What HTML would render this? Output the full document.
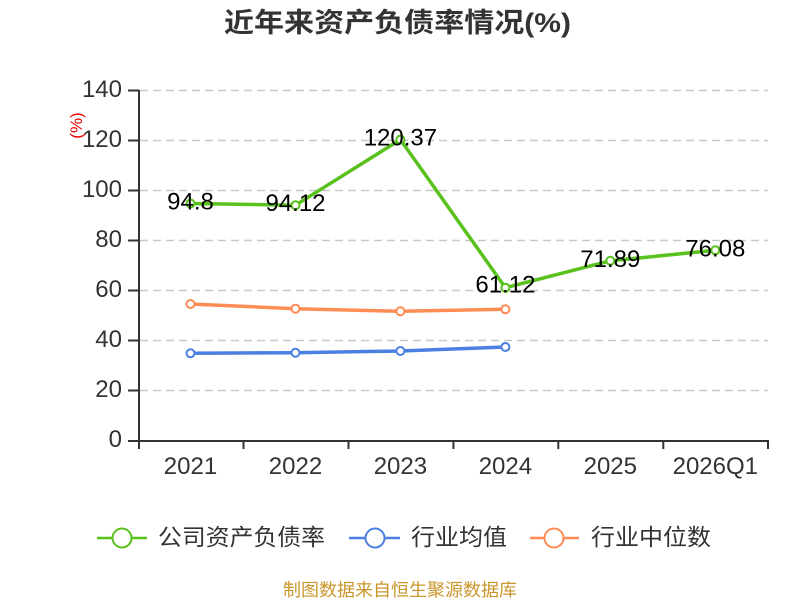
<!DOCTYPE html>
<html>
<head>
<meta charset="utf-8">
<style>
html,body{margin:0;padding:0;background:#fff;}
svg{display:block;}
</style>
</head>
<body>
<svg width="800" height="600" viewBox="0 0 800 600" xmlns="http://www.w3.org/2000/svg">
  <rect width="800" height="600" fill="#fff"/>
  <!-- Title -->
  <text x="224" y="32" font-family="'Liberation Sans','Noto Sans CJK SC',sans-serif" font-size="27" font-weight="bold" fill="#333" textLength="347" lengthAdjust="spacingAndGlyphs">近年来资产负债率情况(%)</text>

  <!-- gridlines -->
  <g stroke="#c8c8c8" stroke-width="1.6" stroke-dasharray="8,5">
    <line x1="140" y1="90.5" x2="768" y2="90.5"/>
    <line x1="140" y1="140.5" x2="768" y2="140.5"/>
    <line x1="140" y1="190.5" x2="768" y2="190.5"/>
    <line x1="140" y1="240.5" x2="768" y2="240.5"/>
    <line x1="140" y1="290.5" x2="768" y2="290.5"/>
    <line x1="140" y1="340.5" x2="768" y2="340.5"/>
    <line x1="140" y1="390.5" x2="768" y2="390.5"/>
  </g>

  <!-- axes -->
  <g stroke="#333" stroke-width="2">
    <line x1="139" y1="90" x2="139" y2="441"/>
    <line x1="138" y1="441" x2="769" y2="441"/>
    <!-- y ticks -->
    <line x1="128" y1="90.5" x2="139" y2="90.5"/>
    <line x1="128" y1="140.5" x2="139" y2="140.5"/>
    <line x1="128" y1="190.5" x2="139" y2="190.5"/>
    <line x1="128" y1="240.5" x2="139" y2="240.5"/>
    <line x1="128" y1="290.5" x2="139" y2="290.5"/>
    <line x1="128" y1="340.5" x2="139" y2="340.5"/>
    <line x1="128" y1="390.5" x2="139" y2="390.5"/>
    <line x1="128" y1="441" x2="139" y2="441"/>
    <!-- x ticks -->
    <line x1="139" y1="441" x2="139" y2="449"/>
    <line x1="243.5" y1="441" x2="243.5" y2="449"/>
    <line x1="348.5" y1="441" x2="348.5" y2="449"/>
    <line x1="453.4" y1="441" x2="453.4" y2="449"/>
    <line x1="558.3" y1="441" x2="558.3" y2="449"/>
    <line x1="663.3" y1="441" x2="663.3" y2="449"/>
    <line x1="768" y1="441" x2="768" y2="449"/>
  </g>

  <!-- y labels -->
  <g font-family="'Liberation Sans',sans-serif" font-size="24" fill="#333" text-anchor="end">
    <text x="122" y="97">140</text>
    <text x="122" y="147">120</text>
    <text x="122" y="197">100</text>
    <text x="122" y="247">80</text>
    <text x="122" y="297">60</text>
    <text x="122" y="347">40</text>
    <text x="122" y="397">20</text>
    <text x="122" y="447">0</text>
  </g>

  <!-- unit label -->
  <text x="0" y="0" transform="translate(82,125.5) rotate(-90)" font-family="'Liberation Sans',sans-serif" font-size="17" fill="#e00" text-anchor="middle">(%)</text>

  <!-- x labels -->
  <g font-family="'Liberation Sans',sans-serif" font-size="24" fill="#333" text-anchor="middle">
    <text x="190.5" y="474">2021</text>
    <text x="295.5" y="474">2022</text>
    <text x="400.4" y="474">2023</text>
    <text x="505.4" y="474">2024</text>
    <text x="610.3" y="474">2025</text>
    <text x="715.3" y="474">2026Q1</text>
  </g>

  <!-- series: industry median (orange) -->
  <polyline fill="none" stroke="#ff8c55" stroke-width="3.5" stroke-linejoin="round" points="190.5,304 295.5,308.7 400.4,311.3 505.4,309.3"/>
  <g fill="#fff" stroke="#ff8c55" stroke-width="2">
    <circle cx="190.5" cy="304" r="4"/>
    <circle cx="295.5" cy="308.7" r="4"/>
    <circle cx="400.4" cy="311.3" r="4"/>
    <circle cx="505.4" cy="309.3" r="4"/>
  </g>

  <!-- series: industry average (blue) -->
  <polyline fill="none" stroke="#4b7fe2" stroke-width="3.5" stroke-linejoin="round" points="190.5,353.3 295.5,352.7 400.4,351 505.4,347"/>
  <g fill="#fff" stroke="#4b7fe2" stroke-width="2">
    <circle cx="190.5" cy="353.3" r="4"/>
    <circle cx="295.5" cy="352.7" r="4"/>
    <circle cx="400.4" cy="351" r="4"/>
    <circle cx="505.4" cy="347" r="4"/>
  </g>

  <!-- series: company (green) -->
  <polyline fill="none" stroke="#58c11c" stroke-width="3.5" stroke-linejoin="round" points="190.5,203.5 295.5,205.2 400.4,139.6 505.4,287.7 610.3,260.8 715.3,250.3"/>
  <g fill="#fff" stroke="#58c11c" stroke-width="2">
    <circle cx="190.5" cy="203.5" r="4"/>
    <circle cx="295.5" cy="205.2" r="4"/>
    <circle cx="400.4" cy="139.6" r="4"/>
    <circle cx="505.4" cy="287.7" r="4"/>
    <circle cx="610.3" cy="260.8" r="4"/>
    <circle cx="715.3" cy="250.3" r="4"/>
  </g>

  <!-- data labels -->
  <g font-family="'Liberation Sans',sans-serif" font-size="24" fill="#000" text-anchor="middle">
    <text x="190.5" y="209.5">94.8</text>
    <text x="295.5" y="211">94.12</text>
    <text x="400.4" y="145.5">120.37</text>
    <text x="505.4" y="292.5">61.12</text>
    <text x="610.3" y="266.8">71.89</text>
    <text x="715.3" y="256.3">76.08</text>
  </g>

  <!-- legend -->
  <g>
    <line x1="97" y1="538" x2="147" y2="538" stroke="#58c11c" stroke-width="2.5"/>
    <circle cx="122" cy="538" r="9.5" fill="#fff" stroke="#58c11c" stroke-width="2"/>
    <line x1="349" y1="538" x2="400" y2="538" stroke="#4b7fe2" stroke-width="2.5"/>
    <circle cx="375" cy="538" r="9.5" fill="#fff" stroke="#4b7fe2" stroke-width="2"/>
    <line x1="530" y1="538" x2="579" y2="538" stroke="#ff8c55" stroke-width="2.5"/>
    <circle cx="554" cy="538" r="9.5" fill="#fff" stroke="#ff8c55" stroke-width="2"/>
  </g>
  <g font-family="'Liberation Sans','Noto Sans CJK SC',sans-serif" font-size="23" fill="#333">
    <text x="158" y="545" textLength="167" lengthAdjust="spacingAndGlyphs">公司资产负债率</text>
    <text x="411" y="545" textLength="96" lengthAdjust="spacingAndGlyphs">行业均值</text>
    <text x="591" y="545" textLength="120" lengthAdjust="spacingAndGlyphs">行业中位数</text>
  </g>

  <!-- footer -->
  <text x="283" y="596" font-family="'Liberation Sans','Noto Sans CJK SC',sans-serif" font-size="17.5" fill="#c9962b" textLength="234" lengthAdjust="spacingAndGlyphs">制图数据来自恒生聚源数据库</text>
</svg>
</body>
</html>
